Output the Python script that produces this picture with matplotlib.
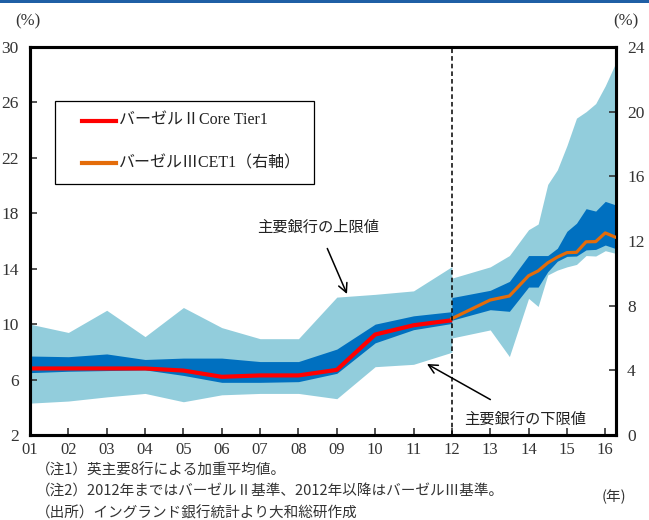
import matplotlib
matplotlib.use("Agg")
import matplotlib.pyplot as plt
from matplotlib.lines import Line2D
from matplotlib.patches import Rectangle

# ---------------- data ----------------
# Basel II period (left axis, annual, 2001-2012)
years_b2 = [1, 2, 3, 4, 5, 6, 7, 8, 9, 10, 11, 12]
b2_light_hi = [10.0, 9.4, 11.0, 9.1, 11.2, 9.75, 8.95, 8.95, 11.95, 12.15, 12.4, 14.15]
b2_dark_hi = [7.7, 7.65, 7.85, 7.45, 7.55, 7.55, 7.3, 7.3, 8.2, 10.0, 10.6, 10.9]
b2_core = [6.8, 6.8, 6.8, 6.8, 6.65, 6.2, 6.3, 6.3, 6.7, 9.25, 9.92, 10.28]
b2_dark_lo = [6.5, 6.6, 6.65, 6.7, 6.3, 5.8, 5.8, 5.85, 6.45, 8.65, 9.6, 10.05]
b2_light_lo = [4.3, 4.45, 4.75, 5.0, 4.4, 4.9, 5.0, 5.0, 4.62, 6.93, 7.1, 7.97]

# Basel III period (right axis, 2012-2016)
years_b3 = [12.0, 13.0, 13.5, 14.0, 14.25, 14.5, 14.75, 15.0, 15.25, 15.5, 15.75, 16.0, 16.25]
b3_light_hi = [9.7, 10.4, 11.1, 12.7, 13.05, 15.5, 16.4, 17.9, 19.6, 20.0, 20.5, 21.6, 22.9]
b3_dark_hi = [8.5, 8.95, 9.5, 11.1, 11.1, 11.1, 11.55, 12.6, 13.1, 14.0, 13.85, 14.45, 14.25]
b3_cet1 = [7.2, 8.35, 8.6, 9.85, 10.15, 10.65, 11.0, 11.28, 11.3, 11.95, 11.96, 12.5, 12.25]
b3_dark_lo = [7.1, 7.75, 7.65, 9.15, 9.15, 10.1, 10.75, 11.05, 11.07, 11.45, 11.48, 11.75, 11.55]
b3_light_lo = [6.0, 6.5, 4.85, 8.45, 7.95, 9.9, 10.2, 10.4, 10.55, 11.1, 11.07, 11.4, 11.25]

xtick_vals = list(range(1, 17))
xtick_labels = ["01", "02", "03", "04", "05", "06", "07", "08", "09", "10",
                "11", "12", "13", "14", "15", "16"]
left_ticks = [2, 6, 10, 14, 18, 22, 26, 30]
right_ticks = [0, 4, 8, 12, 16, 20, 24]

label_b2 = "バーゼルⅡCore Tier1"
label_b3 = "バーゼルⅢCET1（右軸）"
ann_hi = "主要銀行の上限値"
ann_lo = "主要銀行の下限値"
notes = ["（注1）英主要8行による加重平均値。",
         "（注2）2012年まではバーゼルⅡ基準、2012年以降はバーゼルⅢ基準。",
         "（出所）イングランド銀行統計より大和総研作成"]

# ---------------- style ----------------
LIGHT = "#92CDDC"
DARK = "#0070C0"
RED = "#FF0000"
ORANGE = "#E46C0A"
SERIF = ["Liberation Serif", "Noto Sans CJK JP"]
JP = ["Noto Sans CJK JP", "DejaVu Sans"]
TXT = "#333333"

W, H = 649, 520
fig = plt.figure(figsize=(W / 100, H / 100), dpi=100)
L, R, T, B = 30, 616, 47, 435
ax = fig.add_axes([L / W, 1 - B / H, (R - L) / W, (B - T) / H])
ax2 = ax.twinx()

# Basel II (left)
ax.fill_between(years_b2, b2_light_lo, b2_light_hi, color=LIGHT, lw=0, zorder=1)
ax.fill_between(years_b2, b2_dark_lo, b2_dark_hi, color=DARK, lw=0, zorder=2)
l1, = ax.plot(years_b2, b2_core, color=RED, lw=3.0, zorder=3)

# Basel III (right)
ax2.fill_between(years_b3, b3_light_lo, b3_light_hi, color=LIGHT, lw=0, zorder=1)
ax2.fill_between(years_b3, b3_dark_lo, b3_dark_hi, color=DARK, lw=0, zorder=2)
l2, = ax2.plot(years_b3, b3_cet1, color=ORANGE, lw=2.3, zorder=3)
ax2.axvline(12, color="black", ls=(0, (3, 2)), lw=1.1, zorder=4)

ax.set_xlim(1, 16.28)
ax.set_ylim(2, 30)
ax2.set_ylim(0, 24)
ax.set_xticks(xtick_vals)
ax.set_xticklabels(xtick_labels)
ax.set_yticks(left_ticks)
ax2.set_yticks(right_ticks)

for a in (ax, ax2):
    for s in a.spines.values():
        s.set_linewidth(2.2)
        s.set_color("black")
ax.tick_params(axis="x", direction="in", length=5, width=1.2, pad=5,
               labelsize=12, colors=TXT)
ax.tick_params(axis="y", direction="in", length=5, width=1.2, pad=8,
               labelsize=12.5, colors=TXT)
ax2.tick_params(axis="y", direction="in", length=5, width=1.2, pad=8,
                labelsize=12.5, colors=TXT)
for lab in ax.get_xticklabels() + ax.get_yticklabels() + ax2.get_yticklabels():
    lab.set_fontfamily(SERIF)
    lab.set_color(TXT)

# legend box drawn in pixel-derived axes fractions
def ax_frac(px, py):
    return ((px - L) / (R - L), (B - py) / (B - T))

x0, y0 = ax_frac(55, 184)
x1, y1 = ax_frac(314, 101)
ax.add_patch(Rectangle((x0, y0), x1 - x0, y1 - y0, transform=ax.transAxes,
                       fill=True, facecolor="white", edgecolor="black", lw=0.9, zorder=10))
for py, col, lw, txt in [(121, RED, 3.0, label_b2), (163, ORANGE, 3.0, label_b3)]:
    a0, yy = ax_frac(82, py)
    a1, _ = ax_frac(116, py)
    ax.add_line(Line2D([a0, a1], [yy, yy], transform=ax.transAxes, color=col,
                       lw=lw, zorder=11))
    tx, _ = ax_frac(119, py)
    ax.text(tx, yy, txt, transform=ax.transAxes, fontsize=11.5, family=SERIF,
            color="#222222", va="center", ha="left", zorder=11)

# annotations
def fig_xy(px, py):
    return (px / W, 1 - py / H)

ax.annotate(ann_hi, xy=fig_xy(347, 294), xycoords="figure fraction",
            xytext=fig_xy(318, 227), textcoords="figure fraction",
            fontsize=11, family=JP, ha="center", va="center", color="#222222",
            arrowprops=dict(arrowstyle="->", color="black", lw=1.1,
                            shrinkA=8, shrinkB=0, mutation_scale=16))
ax.annotate(ann_lo, xy=fig_xy(427, 364), xycoords="figure fraction",
            xytext=fig_xy(525, 419), textcoords="figure fraction",
            fontsize=11, family=JP, ha="center", va="center", color="#222222",
            zorder=12,
            arrowprops=dict(arrowstyle="->", color="black", lw=1.1,
                            shrinkA=12, shrinkB=0, mutation_scale=16))

# units
fig.text(28 / W, 1 - 21 / H, "(%)", family=SERIF, fontsize=12, ha="center",
         va="center", color=TXT)
fig.text(626 / W, 1 - 21 / H, "(%)", family=SERIF, fontsize=12, ha="center",
         va="center", color=TXT)
fig.text(614 / W, 1 - 497 / H, "(年)", family=JP, fontsize=10.5, ha="center",
         va="center", color=TXT)

for i, note in enumerate(notes):
    fig.text(36 / W, 1 - (470 + 21.5 * i) / H, note, family=JP, fontsize=10.5,
             ha="left", va="center", color=TXT)

# top blue rule
fig.add_artist(Rectangle((0, 1 - 3 / H), 1, 3 / H, transform=fig.transFigure,
                         color="#1F5FA5", lw=0))

fig.savefig("out.png", dpi=100)
